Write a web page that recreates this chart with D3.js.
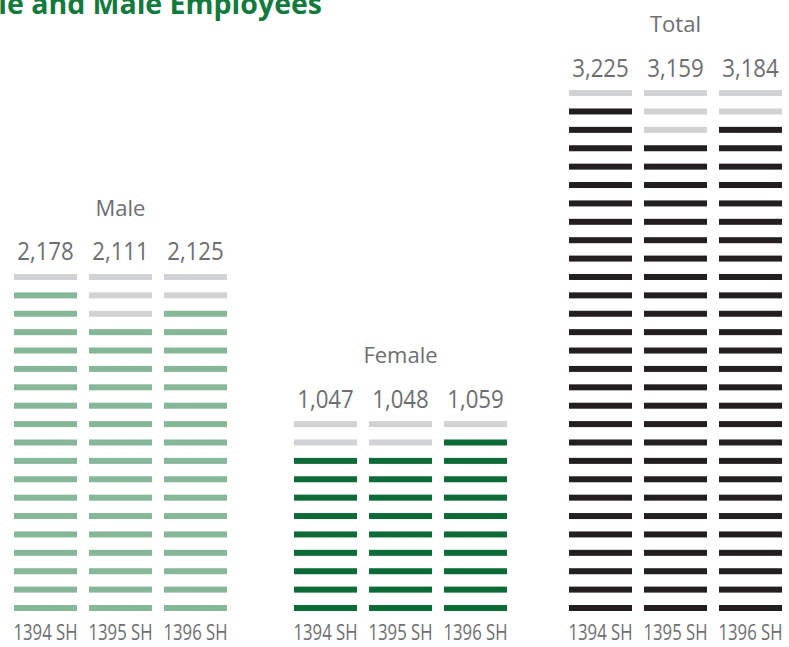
<!DOCTYPE html>
<html>
<head>
<meta charset="utf-8">
<script src="https://cdn.jsdelivr.net/npm/d3@7"></script>
<style>
  html, body { margin: 0; padding: 0; background: #fff; }
  svg { display: block; }
</style>
</head>
<body>
<div id="chart"></div>
<script>
// ---- data ----
const years = ["1394 SH", "1395 SH", "1396 SH"];
const groups = ["Male", "Female", "Total"];
const maleValues = [2178, 2111, 2125];
const femaleValues = [1047, 1048, 1059];
const totalValues = [3225, 3159, 3184];
// number of stripes drawn per group and how many are filled per year
const maleSlots = 19, femaleSlots = 11, totalSlots = 29;
const maleFilled = [18, 16, 17];
const femaleFilled = [9, 9, 10];
const totalFilled = [28, 26, 27];
const titleText = "Female and Male Employees";

const groupData = [
  { name: groups[0], values: maleValues, filled: maleFilled, slots: maleSlots, color: "#86b798" },
  { name: groups[1], values: femaleValues, filled: femaleFilled, slots: femaleSlots, color: "#0d6b37" },
  { name: groups[2], values: totalValues, filled: totalFilled, slots: totalSlots, color: "#231f20" }
];

const W = 789, H = 647;
const svg = d3.select("#chart").append("svg").attr("width", W).attr("height", H);

const textColor = "#6d6e71";
const emptyColor = "#d1d2d4";
const font = "'Open Sans', 'Noto Sans', sans-serif";

function condense(sel, factor) {
  sel.each(function () {
    const len = this.getComputedTextLength();
    d3.select(this).attr("textLength", len * factor).attr("lengthAdjust", "spacingAndGlyphs");
  });
}

// title (clipped at the top-left edge as in the reference)
svg.append("text")
  .attr("x", 322).attr("y", 14)
  .attr("text-anchor", "end")
  .attr("font-family", font)
  .attr("font-weight", 700)
  .attr("font-size", 28.5)
  .attr("fill", "#137a3d")
  .text(titleText);

// stripe index -> y
const y = d3.scaleLinear().domain([0, 28]).range([608, 608 - 28 * 18.39]);
const stripeH = 6;

const groupStart = d3.scaleOrdinal().domain(groups).range([8, 288, 563]);

groupData.forEach(g => {
  const x0 = groupStart(g.name);
  const x = d3.scaleBand().domain(years).range([x0, x0 + 225]).paddingInner(0.16).paddingOuter(0.08);
  const gEl = svg.append("g");

  years.forEach((yr, i) => {
    const idx = d3.range(g.slots);
    gEl.selectAll(null).data(idx).enter().append("rect")
      .attr("x", x(yr))
      .attr("width", x.bandwidth())
      .attr("y", k => y(k) - stripeH / 2)
      .attr("height", stripeH)
      .attr("fill", k => k < g.filled[i] ? g.color : emptyColor);

    const v = gEl.append("text")
      .attr("x", x(yr) + x.bandwidth() / 2)
      .attr("y", y(g.slots - 1) - 16.5)
      .attr("text-anchor", "middle")
      .attr("font-family", font)
      .attr("font-size", 25)
      .attr("fill", textColor)
      .text(d3.format(",")(g.values[i]));
    condense(v, 0.89);
  });

  // group title
  gEl.append("text")
    .attr("x", x(years[1]) + x.bandwidth() / 2)
    .attr("y", y(g.slots - 1) - 61)
    .attr("text-anchor", "middle")
    .attr("font-family", font)
    .attr("font-size", 22)
    .attr("fill", textColor)
    .text(g.name);

  // category axis
  const axis = gEl.append("g")
    .attr("transform", "translate(0,640)")
    .call(d3.axisBottom(x).tickSize(0).tickPadding(0));
  axis.select(".domain").remove();
  axis.selectAll("text")
    .attr("y", 0).attr("dy", 0)
    .attr("font-family", font)
    .attr("font-size", 21)
    .attr("textLength", 64)
    .attr("lengthAdjust", "spacingAndGlyphs")
    .attr("fill", textColor);
});
</script>
</body>
</html>
